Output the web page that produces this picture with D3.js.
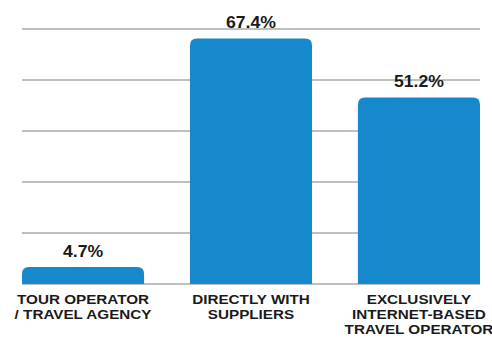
<!DOCTYPE html>
<html><head><meta charset="utf-8">
<script src="https://cdn.jsdelivr.net/npm/d3@7"></script>
<style>body{margin:0;background:#fff}svg{display:block}</style>
</head><body>
<svg id="c" width="492" height="338"></svg>
<script>
const categories = [["TOUR OPERATOR","/ TRAVEL AGENCY"],["DIRECTLY WITH","SUPPLIERS"],["EXCLUSIVELY","INTERNET-BASED","TRAVEL OPERATOR"]];
const values = [4.7, 67.4, 51.2];
const valueLabels = ["4.7%","67.4%","51.2%"];
const gridTicks = [0,14,28,42,56,70];

const svg = d3.select("#c");
const x = d3.scaleBand().domain(d3.range(values.length)).range([22,480]).paddingInner(0.273).paddingOuter(0);
const y = d3.scaleLinear().domain([0,70]).range([284,29]);

svg.append("g").selectAll("line").data(gridTicks).join("line")
  .attr("x1",22).attr("x2",480).attr("y1",d=>y(d)).attr("y2",d=>y(d))
  .attr("stroke","#bfbfbf").attr("stroke-width",2);

function topRounded(x0,y0,w,h,r){
  r=Math.min(r,h,w/2);
  return `M${x0},${y0+h}V${y0+r}Q${x0},${y0} ${x0+r},${y0}H${x0+w-r}Q${x0+w},${y0} ${x0+w},${y0+r}V${y0+h}Z`;
}
svg.append("g").selectAll("path").data(values).join("path")
  .attr("d",(d,i)=>topRounded(x(i),y(d),x.bandwidth(),y(0)-y(d),7))
  .attr("fill","#1589cb");

svg.append("g").selectAll("text").data(values).join("text")
  .attr("transform",(d,i)=>`translate(${x(i)+x.bandwidth()/2},${y(d)-10}) scale(1.07,1)`)
  .attr("text-anchor","middle").attr("font-family","Liberation Sans, Arial, sans-serif")
  .attr("font-weight","bold").attr("font-size",16.5).attr("fill","#1a1a1a")
  .text((d,i)=>valueLabels[i]);

const cl = svg.append("g").selectAll("text").data(categories).join("text")
  .attr("transform",(d,i)=>`translate(${x(i)+x.bandwidth()/2},0) scale(1.13,1)`)
  .attr("text-anchor","middle").attr("font-family","Liberation Sans, Arial, sans-serif")
  .attr("font-weight","bold").attr("font-size",13.5).attr("fill","#1a1a1a");
cl.each(function(lines,i){
  d3.select(this).selectAll("tspan").data(lines).join("tspan")
    .attr("x",0).attr("y",(l,j)=>304+j*15).text(l=>l);
});
</script>
</body></html>
